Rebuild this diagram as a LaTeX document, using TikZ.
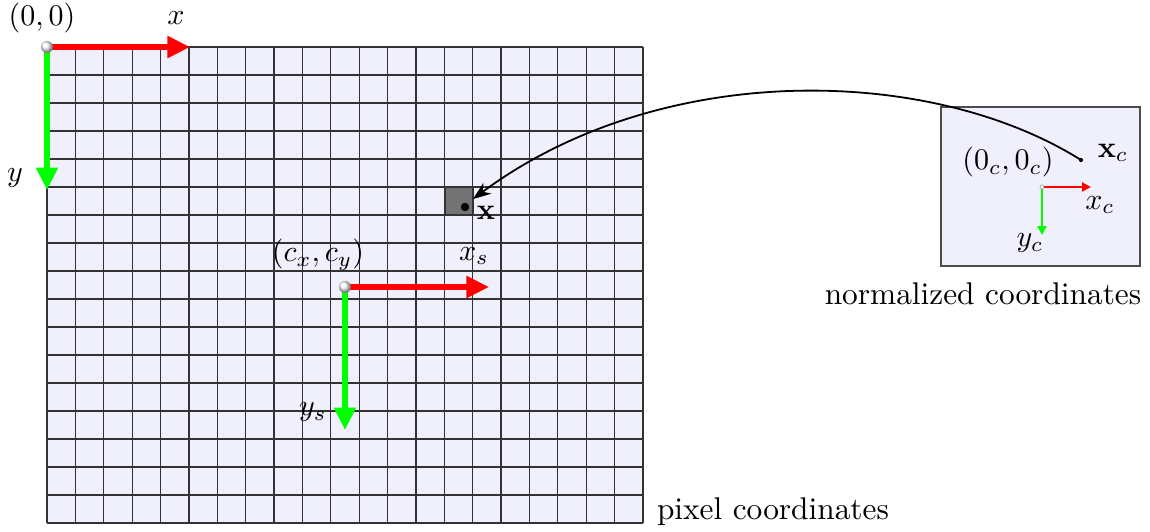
\documentclass[tikz,border=0pt]{standalone}
\usetikzlibrary{arrows.meta,shadings}
\definecolor{lav}{rgb}{0.94,0.94,0.99}
\tikzset{
  bigax/.style={line width=1.8pt,-{Triangle[length=7.5pt,width=7pt]}},
  smallax/.style={line width=0.8pt,-{Triangle[length=3pt,width=3pt]}},
  gridline/.style={draw=black!80,line width=0.4pt},
  lbl/.style={inner sep=0pt,anchor=center},
  txt/.style={inner sep=0pt,anchor=center,font=\fontsize{10.45pt}{12.5pt}\selectfont},
}
\begin{document}
\begin{tikzpicture}[x={(0.33333pt,0)},y={(0,-0.33333pt)}]
\useasboundingbox (0,0) rectangle (1150,532);
% big grid
\fill[lav] (47,47) rectangle (643,523);
\foreach \i in {0,...,21} \draw[gridline] ({47+\i*596/21},47) -- ({47+\i*596/21},523);
\foreach \j in {0,...,17} \draw[gridline] (47,{47+\j*28}) -- (643,{47+\j*28});
% highlighted pixel
\fill[black!55] (445,187) rectangle (473,215);
\draw[gridline] (445,187) rectangle (473,215);
\coordinate (pix) at (473,199);
\node[circle,fill=black,inner sep=0pt,minimum size=2.8pt] (px) at (465,207) {};
\node[lbl] (pxl) at (486,213) {$\mathbf{x}$};
% origin (0,0)
\coordinate (O) at (47,47);
\coordinate (OX) at (190,47);
\coordinate (OY) at (47,190);
\draw[bigax,green] (O) -- (OY);
\draw[bigax,red] (O) -- (OX);
\shade[ball color=white] (O) circle (2pt);
\node[lbl] (ol) at (42,18) {$(0,0)$};
\node[lbl] (xl) at (176,18) {$x$};
\node[lbl] (yl) at (15,178) {$y$};
% origin (cx,cy)
\coordinate (C) at (345,287);
\coordinate (CX) at (489,287);
\coordinate (CY) at (345,430);
\draw[bigax,green] (C) -- (CY);
\draw[bigax,red] (C) -- (CX);
\shade[ball color=white] (C) circle (2pt);
\node[lbl] (cl) at (318,255) {$(c_x,c_y)$};
\node[lbl] (xsl) at (474,256) {$x_s$};
\node[lbl] (ysl) at (313,412) {$y_s$};
\node[txt] (pixtxt) at (773,512) {pixel coordinates};
% normalized box
\node[draw=black!70,fill=lav,line width=0.6pt,minimum width=199*0.33333pt,minimum height=159*0.33333pt,inner sep=0pt] (box) at (1040.5,186.5) {};
\coordinate (N) at (1042,187);
\coordinate (NX) at (1091,187);
\coordinate (NY) at (1042,235);
\draw[smallax,green] (N) -- (NY);
\draw[smallax,red] (N) -- (NX);
\filldraw[fill=white,draw=black!40,line width=0.2pt] (N) circle (0.7pt);
\node[lbl] (nl) at (1008,162) {$(0_c,0_c)$};
\node[lbl] (xcl) at (1100,205) {$x_c$};
\node[lbl] (ycl) at (1030,243) {$y_c$};
\node[circle,fill=black,inner sep=0pt,minimum size=1.4pt] (xc) at (1081,160) {};
\node[lbl] (xcb) at (1113,153) {$\mathbf{x}_c$};
\node[txt] (normtxt) at (983,294) {normalized coordinates};
% curved connector
\draw[line width=0.6pt,-{Stealth[length=6pt,width=4.5pt]}] (xc.center) .. controls (930,65) and (660,60) .. (pix);
\end{tikzpicture}
\end{document}
